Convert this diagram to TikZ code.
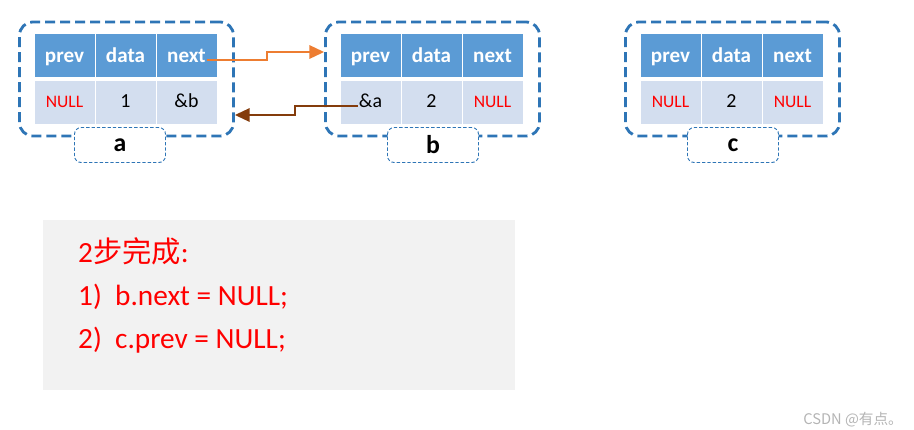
\documentclass[tikz,border=0pt]{standalone}
\usepackage{fontspec}
\setmainfont{Carlito}
\newfontfamily\cjk{Noto Sans CJK SC}
\definecolor{hdrblue}{HTML}{5B9BD5}
\definecolor{rowblue}{HTML}{D3DEEF}
\definecolor{dashblue}{HTML}{2E75B6}
\definecolor{nextorange}{HTML}{ED7D31}
\definecolor{prevbrown}{HTML}{843C0C}
\definecolor{notegray}{HTML}{F2F2F2}
\definecolor{markgray}{HTML}{B4B4B4}
\usetikzlibrary{arrows.meta,positioning,calc}
\newcommand\nul{\textcolor{red}{\fontsize{15}{18}\selectfont NULL}}

\begin{document}
\begin{tikzpicture}[x=0.3mm,y=-0.3mm,
  hdr/.style={fill=hdrblue,draw=white,line width=0.6pt,inner sep=0pt,
    minimum width=18.3mm,minimum height=13.2mm,text=white,
    text height=15pt,text depth=1.4pt,
    font=\fontsize{18}{21}\selectfont\bfseries},
  cell/.style={hdr,fill=rowblue,text=black,text height=12pt,text depth=1.8pt,
    font=\fontsize{17}{20}\selectfont},
  outerbox/.style={draw=dashblue,line width=2.4pt,dash pattern=on 3mm off 1.5mm,
    rounded corners=4mm,minimum width=64.2mm,minimum height=34.2mm},
  namebox/.style={draw=dashblue,fill=white,line width=0.8pt,
    dash pattern=on 1mm off 0.6mm,rounded corners=2mm,inner sep=0pt,
    minimum width=27.3mm,minimum height=10.5mm,font=\fontsize{22}{26}\selectfont\bfseries},
  link/.style={line width=1.7pt,-{Triangle[length=4.4mm,width=4mm]}},
  notetext/.style={anchor=base west,inner sep=0pt,text=red,font=\fontsize{25}{30}\selectfont}]
  \useasboundingbox (0,0) rectangle (914,429);
  % list nodes a, b, c
  \foreach \n/\x/\lx/\p/\d/\q in {a/34/120/\nul/1/\&b,
                                  b/340/433/\&a/2/\nul,
                                  c/640/733/\nul/2/\nul} {
    \node[outerbox] (\n) at (\x+92.5,79) {};
    \node[hdr] (\n-prevhead) at (\x+30.5,55) {prev};
    \node[hdr] (\n-datahead) at (\x+91.5,55) {data};
    \node[hdr] (\n-nexthead) at (\x+152.5,55) {next};
    \node[cell] (\n-prev) at (\x+30.5,102) {\p};
    \node[cell] (\n-data) at (\x+91.5,102) {\d};
    \node[cell] (\n-next) at (\x+152.5,102) {\q};
    \node[namebox] (\n-name) at (\lx,145) {\n};
  }
  % next pointer of a
  \draw[link,nextorange] ($(a-nexthead.center)+(20.5,5)$) -- ++(60,0)
    |- ($(b.west)+(0,-27)$);
  % prev pointer of b
  \draw[link,prevbrown] ($(b-prev.center)+(-12.5,4)$) -- ++(-63,0)
    |- ($(a.east)+(0,36)$);
  % steps
  \node[fill=notegray,minimum width=141.6mm,minimum height=51mm] (note) at (279,305) {};
  \node[notetext] (note-title) at (78,262) {2{\cjk 步完成}:};
  \node[notetext] (note-one) at (78,305) {1)\ \ b.next = NULL;};
  \node[notetext] (note-two) at (78,348) {2)\ \ c.prev = NULL;};
  % watermark
  \node[anchor=base east,text=markgray,font=\cjk\fontsize{12.5}{15}\selectfont]
    (mark) at (907,424) {CSDN @有点。};
\end{tikzpicture}
\end{document}
